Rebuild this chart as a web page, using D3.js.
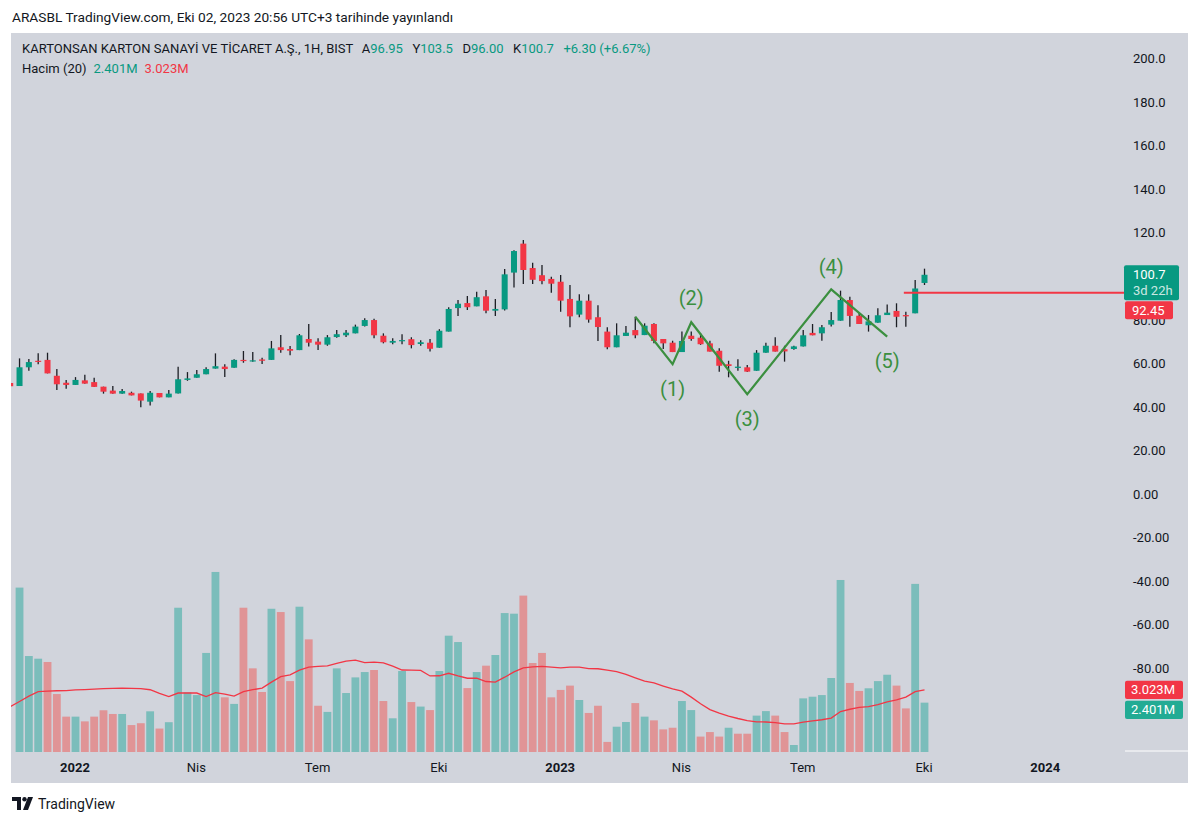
<!DOCTYPE html>
<html><head><meta charset="utf-8">
<script src="https://cdn.jsdelivr.net/npm/d3@7"></script>
<style>
body{margin:0;background:#fff}
svg{display:block}
text{font-family:Roboto,"Noto Sans",sans-serif}
</style></head>
<body><svg id="c" width="1200" height="824"></svg>
<script>
// ---------- data ----------
const firstWeek = "2021-11-15";   // weekly bars
const opens = [51,49.6,58.2,61.2,61.6,54.3,51.1,50.1,52.2,51.4,
 49.3,47.5,46.1,46.5,46.2,42.4,46.4,44.4,46.2,52.4,
 53.4,55.0,57.6,58.5,58.0,61.6,60.9,61.8,61.6,67.4,
 66.6,66.1,71.2,70.0,68.6,72.1,72.9,73.8,77.2,79.9,
 72.7,69.5,70.3,71.1,68.9,69.5,67.2,74.6,85.4,87.7,
 86.2,90.8,84.2,84.8,101.7,115.0,103.8,100.5,98.8,97.5,
 89.6,82.4,88.8,81.2,74.6,67.4,72.6,75.3,73.0,78.1,
 71.2,69.5,65.2,72.7,71.8,69.2,65.8,59.6,57.9,58.2,
 56.6,64.9,68.1,66.5,66.6,67.8,74.0,73.8,77.8,79.6,
 89.1,81.9,77.5,78.7,82.2,84.1,82.2,83.0,96.95];
const highs = [52,62.3,62.0,64.6,64.9,57.4,52.4,53.7,54.8,53.4,
 49.3,49.6,48.2,47.0,46.2,47.3,46.4,47.8,58.5,56.0,
 57.0,58.2,64.6,59.6,61.9,65.7,65.2,62.6,70.3,73.0,
 68.0,73.5,78.1,71.5,73.0,75.3,75.3,77.8,80.7,80.5,
 73.8,71.5,73.4,72.0,70.6,71.2,75.7,85.8,89.1,91.0,
 92.9,93.7,89.6,103.4,112.0,116.7,106.2,105.2,99.8,100.6,
 96.0,91.7,91.7,86.7,76.6,78.4,77.2,81.4,78.4,78.4,
 71.2,70.4,74.6,74.6,73.8,70.4,66.9,61.2,61.9,59.3,
 66.1,69.5,72.0,68.1,68.1,75.3,78.1,77.6,83.6,93.4,
 90.6,83.5,82.2,85.3,87.1,87.6,83.7,98.3,103.5];
const lows = [48,49.6,56.6,59.6,55.4,47.8,48.4,50.1,50.7,49.2,
 46.1,46.1,46.1,45.3,39.8,40.7,44.4,44.4,46.2,52.0,
 53.4,55.0,57.6,53.7,58.0,60.3,60.8,59.7,61.6,64.9,
 63.7,66.1,67.7,66.1,68.1,71.8,72.1,73.8,76.9,71.5,
 69.2,68.8,68.8,66.9,68.1,65.4,67.2,74.6,81.8,84.5,
 86.2,83.0,81.8,84.3,94.9,96.5,96.5,96.3,92.5,83.7,
 76.6,81.2,78.7,70.3,66.5,67.4,72.6,71.5,73.0,69.2,
 66.6,65.2,65.2,70.4,68.5,65.4,56.2,53.6,56.6,56.0,
 56.6,64.9,65.4,60.8,66.3,67.8,72.9,70.4,76.9,79.6,
 76.8,78.1,74.6,78.7,82.2,76.6,76.8,83.0,96.0];
const closes = [49.5,58.2,60.6,60.9,55.4,50.4,50.1,52.4,50.7,49.2,
 47.0,46.1,47.3,45.3,42.9,46.5,44.4,46.1,52.7,53.1,
 55.0,57.4,58.7,57.4,61.6,61.1,61.4,61.2,66.9,66.1,
 65.8,72.9,69.5,68.6,72.0,73.4,74.1,76.9,79.9,72.9,
 69.7,70.3,70.7,68.4,69.7,66.7,75.0,85.0,87.4,85.8,
 90.4,84.2,85.0,100.9,111.6,102.9,98.4,97.8,96.6,88.8,
 81.6,88.8,80.1,76.7,67.4,72.9,74.1,72.9,77.3,70.3,
 69.2,65.2,70.3,71.2,68.8,65.4,58.9,58.8,58.5,56.2,
 64.9,68.1,65.4,65.5,67.8,72.9,72.9,76.6,79.9,89.1,
 81.8,78.1,79.3,82.1,83.3,81.4,81.6,94.40,100.7];
// volume in millions
const volumes = [null,8.0,4.67,4.54,4.38,2.82,1.72,1.72,1.49,1.72,
 2.03,1.85,1.85,1.31,1.40,1.98,1.14,1.45,7.02,2.90,
 2.77,4.82,8.76,2.66,2.34,7.02,4.07,2.92,6.97,6.81,
 3.45,7.07,5.48,2.25,1.95,4.07,2.87,3.63,3.89,3.99,
 2.48,1.64,3.94,2.43,2.21,2.04,3.94,5.66,5.35,3.11,
 3.89,4.20,4.72,6.76,6.73,7.61,4.33,4.82,2.66,3.02,
 3.23,2.53,1.90,2.25,0.49,1.23,1.46,2.38,1.72,1.54,
 1.10,1.18,2.48,2.04,0.75,0.97,0.75,1.18,0.89,0.89,
 1.77,1.99,1.77,0.97,0.34,2.61,2.69,2.77,3.60,8.37,
 3.36,2.97,3.10,3.45,3.76,3.23,2.12,8.18,2.401];
const volumeUp = [0,1,1,1,0,0,0,1,0,0,
 0,0,1,0,0,1,0,1,1,1,
 1,1,1,0,1,0,0,0,1,0,
 0,1,0,0,1,1,1,1,1,0,
 0,1,1,0,1,0,1,1,1,0,
 1,0,1,1,1,0,0,0,0,0,
 0,1,0,0,0,1,1,0,1,0,
 0,0,1,1,0,0,0,1,0,0,
 1,1,0,0,1,1,1,1,1,1,
 0,0,1,1,1,0,0,1,1];
const volumeMA = [2.21,2.46,2.72,2.94,2.96,2.98,2.99,3.02,3.04,3.06,
 3.08,3.10,3.11,3.10,3.08,3.03,2.85,2.70,2.87,2.87,
 2.87,2.70,2.89,2.82,2.72,2.94,3.03,3.11,3.40,3.67,
 3.75,3.98,4.13,4.17,4.19,4.31,4.42,4.47,4.35,4.37,
 4.34,4.18,3.99,3.98,3.97,3.70,3.71,3.83,3.70,3.59,
 3.59,3.43,3.40,3.64,3.90,4.09,4.14,4.17,4.13,4.09,
 4.13,4.13,4.06,4.05,3.98,3.91,3.78,3.61,3.45,3.36,
 3.21,3.07,2.96,2.67,2.35,2.06,1.89,1.75,1.63,1.53,
 1.47,1.46,1.43,1.37,1.37,1.45,1.51,1.57,1.65,1.97,
 2.08,2.17,2.21,2.30,2.44,2.54,2.67,2.94,3.023];

const priceTicks = [200,180,160,140,120,100,80,60,40,20,0,-20,-40,-60,-80,-100];
const priceTickLabels = ["200.0","180.0","160.0","140.0","120.0","100.0","80.00","60.00","40.00","20.00","0.00","-20.00","-40.00","-60.00","-80.00","-100.00"];
const timeTickDates = ["2022-01-03","2022-04-04","2022-07-04","2022-10-03","2023-01-02","2023-04-03","2023-07-03","2023-10-02","2024-01-01"];
const timeTickLabels = ["2022","Nis","Tem","Eki","2023","Nis","Tem","Eki","2024"];
const timeTickBold = [1,0,0,0,1,0,0,0,1];

const waveBars = [67,71,73,79,88,94];
const wavePrices = [81.4,59.6,78.9,45.8,94.0,72.3];
const waveLabels = ["(1)","(2)","(3)","(4)","(5)"];
const waveLabelBars = [71,73,79,88,94];
const waveLabelPrices = [48.2,90.0,34.5,104.3,61.1];

const lastPrice = 100.7, lastCountdown = "3d 22h";
const levelPrice = 92.45, levelStartBar = 96;
const lastVolume = 2.401, lastVolumeMA = 3.023;

// ---------- layout ----------
const svg = d3.select("#c");
const UP="#089981", DOWN="#f23645", BG="#d1d4dc", TXT="#131722";
const paneL=11, paneR=1124, paneT=33, paneB=752, axisR=1188, bottomB=783;

svg.append("rect").attr("x",paneL).attr("y",paneT).attr("width",axisR-paneL).attr("height",bottomB-paneT).attr("fill",BG);

const parse = d3.utcParse("%Y-%m-%d");
const start = parse(firstWeek);
const dates = d3.range(opens.length).map(i=>d3.utcDay.offset(start,7*i));
const x = d3.scaleUtc().domain([dates[0],dates[dates.length-1]]).range([10.2,924.5]);
const y = d3.scaleLinear().domain([0,200]).range([494,58.6]);
const yv = d3.scaleLinear().domain([0,10]).range([paneB,paneB-205.5]);

const defs = svg.append("defs");
defs.append("clipPath").attr("id","pane").append("rect")
  .attr("x",paneL).attr("y",paneT).attr("width",paneR-paneL).attr("height",paneB-paneT);
const pane = svg.append("g").attr("clip-path","url(#pane)");

// volume
const vbw = 7.8;
pane.append("g").selectAll("rect").data(volumes.map((v,i)=>({v,i})).filter(d=>d.v!=null))
 .join("rect")
 .attr("x",d=>x(dates[d.i])-vbw/2).attr("width",vbw)
 .attr("y",d=>yv(d.v)).attr("height",d=>paneB-yv(d.v))
 .attr("fill",d=>volumeUp[d.i]?"#26a69a":"#ef5350").attr("fill-opacity",0.5);
pane.append("path").datum(volumeMA)
 .attr("d",d3.line().x((d,i)=>x(dates[i])).y(d=>yv(d)))
 .attr("fill","none").attr("stroke",DOWN).attr("stroke-width",1.3);

// candles
const cw = 6;
const cg = pane.append("g").selectAll("g").data(d3.range(opens.length)).join("g");
cg.append("line").attr("x1",i=>x(dates[i])).attr("x2",i=>x(dates[i]))
  .attr("y1",i=>y(highs[i])).attr("y2",i=>y(lows[i]))
  .attr("stroke","#1c1e24").attr("stroke-width",1.3);
cg.append("rect").attr("x",i=>x(dates[i])-cw/2).attr("width",cw)
  .attr("y",i=>y(Math.max(opens[i],closes[i])))
  .attr("height",i=>Math.max(1.2,Math.abs(y(opens[i])-y(closes[i]))))
  .attr("fill",i=>closes[i]>=opens[i]?UP:DOWN);

// horizontal level
svg.append("line").attr("x1",x(dates[levelStartBar])-2).attr("x2",paneR)
  .attr("y1",y(levelPrice)).attr("y2",y(levelPrice)).attr("stroke",DOWN).attr("stroke-width",2);

// wave
const WG="#3b8f3f";
pane.append("path").datum(waveBars.map((b,i)=>[b,wavePrices[i]]))
 .attr("d",d3.line().x(d=>x(dates[d[0]])).y(d=>y(d[1])))
 .attr("fill","none").attr("stroke",WG).attr("stroke-width",2.2).attr("stroke-linejoin","miter");
svg.append("g").selectAll("text").data(waveLabels).join("text")
 .attr("x",(d,i)=>x(dates[waveLabelBars[i]])).attr("y",(d,i)=>y(waveLabelPrices[i]))
 .attr("text-anchor","middle").attr("dominant-baseline","central")
 .attr("font-size",20).attr("fill",WG).text(d=>d);

// price axis
const yAxis = d3.axisRight(y).tickValues(priceTicks).tickSize(0).tickPadding(9)
  .tickFormat((d,i)=>priceTickLabels[i]);
const ga = svg.append("g").attr("transform",`translate(${paneR},0)`).call(yAxis);
ga.select(".domain").remove();
ga.selectAll("text").attr("font-size",13).attr("fill",TXT).attr("font-family","Roboto");
ga.selectAll(".tick").filter(d=>y(d)>paneB-5).remove();

// time axis
const xAxis = d3.axisBottom(x).tickValues(timeTickDates.map(parse)).tickSize(0).tickPadding(11)
  .tickFormat((d,i)=>timeTickLabels[i]);
const gx = svg.append("g").attr("transform",`translate(-1,${paneB})`).call(xAxis);
gx.select(".domain").remove();
gx.selectAll("text").attr("font-size",13).attr("fill",TXT).attr("font-family","Roboto")
  .attr("font-weight",(d,i)=>timeTickBold[i]?"bold":"normal");

svg.append("line").attr("x1",paneR+1).attr("x2",axisR).attr("y1",paneB-1).attr("y2",paneB-1)
  .attr("stroke","#fff").attr("stroke-width",1);

// price labels
const ly = y(lastPrice);
svg.append("rect").attr("x",paneR).attr("y",ly-9.5).attr("width",55).attr("height",35).attr("rx",2).attr("fill",UP);
svg.append("text").attr("x",paneR+9).attr("y",ly).attr("dominant-baseline","central").attr("font-size",13).attr("fill","#fff").text(lastPrice.toFixed(1));
svg.append("text").attr("x",paneR+9).attr("y",ly+16).attr("dominant-baseline","central").attr("font-size",13).attr("fill","#fff").attr("fill-opacity",0.8).text(lastCountdown);
const ry = Math.max(y(levelPrice), ly+25.5+10);
svg.append("rect").attr("x",paneR+1).attr("y",ry-9).attr("width",48).attr("height",18).attr("rx",2).attr("fill",DOWN);
svg.append("text").attr("x",paneR+8).attr("y",ry).attr("dominant-baseline","central").attr("font-size",13).attr("fill","#fff").text(levelPrice.toFixed(2));

const vmy = yv(lastVolumeMA);
svg.append("rect").attr("x",paneR+1).attr("y",vmy-9.2).attr("width",58).attr("height",18.4).attr("rx",2).attr("fill",DOWN);
svg.append("text").attr("x",paneR+7).attr("y",vmy).attr("dominant-baseline","central").attr("font-size",13).attr("fill","#fff").text(lastVolumeMA.toFixed(3)+"M");
const vly = Math.max(yv(lastVolume), vmy+20);
svg.append("rect").attr("x",paneR+1).attr("y",vly-9.2).attr("width",58).attr("height",18.4).attr("rx",2).attr("fill","#22ab94");
svg.append("text").attr("x",paneR+7).attr("y",vly).attr("dominant-baseline","central").attr("font-size",13).attr("fill","#fff").text(lastVolume.toFixed(3)+"M");

// header
svg.append("text").attr("x",12).attr("y",17).attr("dominant-baseline","central").attr("font-size",13.7).attr("fill",TXT)
  .text("ARASBL TradingView.com, Eki 02, 2023 20:56 UTC+3 tarihinde yayınlandı");
const l1 = svg.append("text").attr("x",22).attr("y",48).attr("dominant-baseline","central").attr("font-size",13).attr("fill",TXT);
l1.append("tspan").text("KARTONSAN KARTON SANAYİ VE TİCARET A.Ş., 1H, BIST");
const ohlc = [["A",opens[98].toFixed(2)],["Y",highs[98].toFixed(1)],["D",lows[98].toFixed(2)],["K",closes[98].toFixed(1)]];
ohlc.forEach((p,i)=>{ l1.append("tspan").attr("dx",i===0?9:9.5).text(p[0]); l1.append("tspan").attr("fill",UP).text(p[1]); });
l1.append("tspan").attr("dx",9.5).attr("fill",UP).text("+6.30 (+6.67%)");
const l2 = svg.append("text").attr("x",22).attr("y",68).attr("dominant-baseline","central").attr("font-size",13).attr("fill",TXT);
l2.append("tspan").text("Hacim (20)");
l2.append("tspan").attr("dx",7).attr("fill",UP).text(lastVolume.toFixed(3)+"M");
l2.append("tspan").attr("dx",7).attr("fill",DOWN).text(lastVolumeMA.toFixed(3)+"M");

// footer logo
const logo = svg.append("g").attr("transform","translate(12,797)");
logo.append("path").attr("d","M0 0 H9 V13 H5 V4 H0 Z").attr("fill",TXT);
logo.append("circle").attr("cx",12.5).attr("cy",2.2).attr("r",2.2).attr("fill",TXT);
logo.append("path").attr("d","M16 0 H21 L16 13 H11 Z").attr("fill",TXT);
svg.append("text").attr("x",38).attr("y",804).attr("dominant-baseline","central").attr("font-size",14).attr("fill",TXT).text("TradingView");
</script></body></html>
